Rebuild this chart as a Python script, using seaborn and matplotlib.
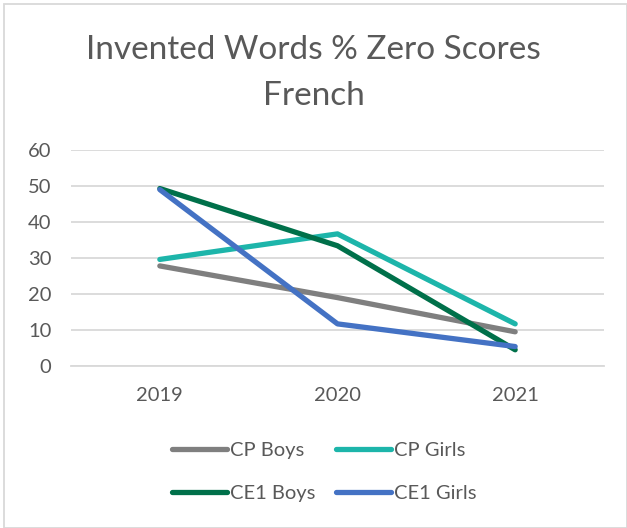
import matplotlib
matplotlib.use("Agg")
import matplotlib.pyplot as plt
import seaborn as sns
import pandas as pd
from matplotlib.patches import Rectangle
from matplotlib.lines import Line2D

years = ["2019", "2020", "2021"]
series_names = ["CP Boys", "CP Girls", "CE1 Boys", "CE1 Girls"]
cp_boys = [27.8, 19.0, 9.5]
cp_girls = [29.6, 36.7, 11.7]
ce1_boys = [49.3, 33.4, 4.5]
ce1_girls = [49.0, 11.7, 5.4]
colors = ["#7F7F7F", "#1DB5AA", "#00704A", "#4472C4"]

rows = []
for name, vals in zip(series_names, [cp_boys, cp_girls, ce1_boys, ce1_girls]):
    for y, v in zip(years, vals):
        rows.append({"Year": y, "Value": v, "Series": name})
df = pd.DataFrame(rows)

sns.set_theme(style="white")
plt.rcParams["font.family"] = ["Lato", "DejaVu Sans"]
text_color = "#595959"

fig = plt.figure(figsize=(6.27, 5.28), dpi=100)
ax = fig.add_axes([71/627, 1-366/528, (604-71)/627, (366-150)/528])

sns.lineplot(data=df, x="Year", y="Value", hue="Series", hue_order=series_names,
             palette=colors, linewidth=3.8, ax=ax, legend=False,
             solid_capstyle="round", sort=False)

ax.set_xlim(-0.5, 2.5)
ax.set_ylim(0, 60)
ax.set_yticks([0, 10, 20, 30, 40, 50, 60])
ax.grid(axis="y", color="#D9D9D9", linewidth=1.3)
ax.set_axisbelow(True)
for s in ["top", "right", "left"]:
    ax.spines[s].set_visible(False)
ax.spines["bottom"].set_color("#D9D9D9")
ax.spines["bottom"].set_linewidth(1.3)
ax.tick_params(axis="both", length=0, labelsize=14.5, labelcolor=text_color)
ax.tick_params(axis="y", pad=14)
ax.tick_params(axis="x", pad=15)
ax.set_xlabel("")
ax.set_ylabel("")

fig.text(0.5, 1-50/528, "Invented Words % Zero Scores", ha="center", va="center",
         fontsize=24, color=text_color)
fig.text(0.5, 1-96/528, "French", ha="center", va="center",
         fontsize=24, color=text_color)

# row-wise legend order (matplotlib fills columns first)
order = [0, 2, 1, 3]
handles = [Line2D([0], [0], color=colors[i], linewidth=3.8, solid_capstyle="round") for i in order]
labels = [series_names[i] for i in order]
leg = fig.legend(handles, labels, loc="center", bbox_to_anchor=(324/627, 1-472/528),
                 ncol=2, frameon=False, fontsize=14.5, handlelength=2.75, handletextpad=0.15,
                 columnspacing=1.0, labelspacing=1.25)
for t in leg.get_texts():
    t.set_color(text_color)

fig.patches.append(Rectangle((4/627, 0), 1-4/627, 1-4/528, transform=fig.transFigure,
                             fill=False, edgecolor="#D9D9D9", linewidth=1.3))

fig.savefig("out.png", dpi=100, facecolor="white")
